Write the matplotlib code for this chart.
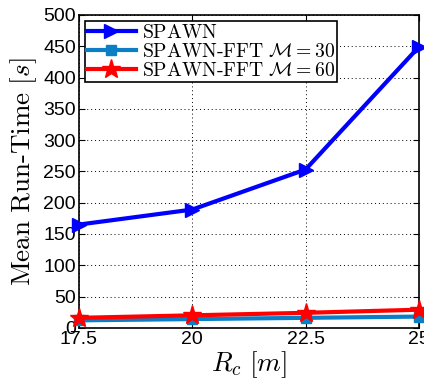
import matplotlib
matplotlib.use("Agg")
import matplotlib.pyplot as plt

# data
rc = [17.5, 20, 22.5, 25]
spawn = [165, 189, 253, 449]
fft30 = [12, 14, 16, 18]
fft60 = [16, 20, 24, 29]

plt.rcParams['mathtext.fontset'] = 'cm'
plt.rcParams['font.family'] = ['Liberation Sans', 'DejaVu Sans']

fig = plt.figure(figsize=(4.24, 3.83), dpi=100)
ax = fig.add_axes([0.186, 0.144, 0.802, 0.817])

ax.plot(rc, spawn, color='#0000ff', lw=3, marker='>', ms=10, clip_on=False, zorder=3,
        label=r'$\mathrm{SPAWN}$')
ax.plot(rc, fft30, color='#0a7fc6', lw=3, marker='s', ms=7, clip_on=False, zorder=3,
        label=r'$\mathrm{SPAWN\text{-}FFT}\ \mathcal{M}=30$')
ax.plot(rc, fft60, color='#ff0000', lw=3, marker='*', ms=14, clip_on=False, zorder=4,
        label=r'$\mathrm{SPAWN\text{-}FFT}\ \mathcal{M}=60$')

ax.set_xlim(17.5, 25)
ax.set_ylim(0, 500)
ax.set_xticks(rc)
ax.set_xticklabels(['17.5', '20', '22.5', '25'])
ax.set_yticks(range(0, 501, 50))
ax.tick_params(direction='in', labelsize=14, top=True, right=True, length=4, pad=2)
ax.grid(True, color='black', linestyle=(0, (1, 3)), linewidth=0.7)
for s in ax.spines.values():
    s.set_linewidth(1.2)

ax.set_xlabel(r'$R_c\ [m]$', fontsize=19.5, labelpad=1)
ax.set_ylabel(r'$\mathrm{Mean\ Run\text{-}Time}\ [s]$', fontsize=19.5, labelpad=3)

leg = ax.legend(loc='upper left', fontsize=14.2, frameon=True, fancybox=False,
                borderpad=0.1, labelspacing=0.0, handlelength=2.5, handletextpad=0.3,
                borderaxespad=0.3)
leg.get_frame().set_edgecolor('black')
leg.get_frame().set_linewidth(1.2)
leg.get_frame().set_alpha(1)

fig.savefig('out.png', dpi=100)
